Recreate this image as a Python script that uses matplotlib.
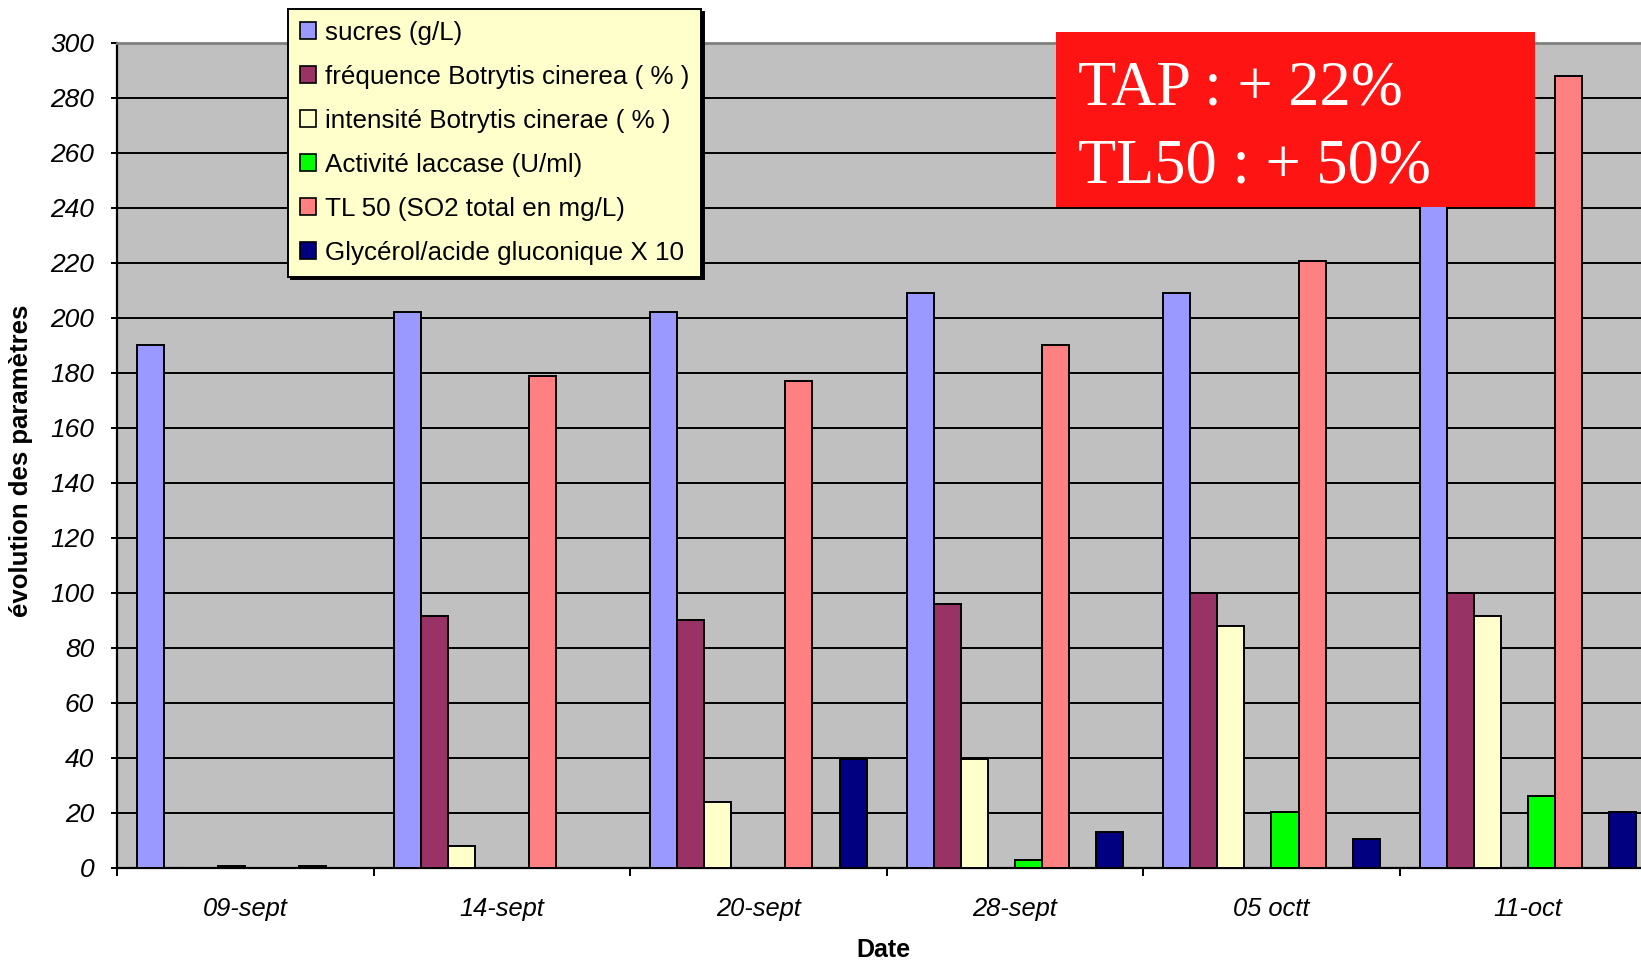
import matplotlib
matplotlib.use("Agg")
import matplotlib.pyplot as plt
from matplotlib.patches import Patch, Rectangle
import numpy as np

# -- data
dates = ["09-sept", "14-sept", "20-sept", "28-sept", "05 octt", "11-oct"]
sucres = [190, 202, 202, 209, 209, 255]
frequence = [0, 91.5, 90, 96, 100, 100]
intensite = [0, 8, 24, 39.5, 88, 91.5]
laccase = [0, 0, 0, 3, 20.5, 26]
tl50 = [0, 179, 177, 190, 220.5, 288]
glycerol = [0, 0, 39.5, 13, 10.5, 20.5]
# two series without a legend entry, only visible as thin marks on 09-sept
hidden_a = [0.7, 0, 0, 0, 0, 0]
hidden_b = [0.7, 0, 0, 0, 0, 0]

labels = ["sucres (g/L)", "fréquence Botrytis cinerea ( % )",
          "intensité Botrytis cinerae ( % )", "Activité laccase (U/ml)",
          "TL 50 (SO2 total en mg/L)", "Glycérol/acide gluconique X 10"]
colors = ["#9999FF", "#993366", "#FFFFCC", "#00FF00", "#FF8080", "#000080"]

# slot order in each group (8 slots, two hidden series)
slots = [(sucres, colors[0]), (frequence, colors[1]), (intensite, colors[2]),
         (hidden_a, "#000000"), (laccase, colors[3]), (tl50, colors[4]),
         (hidden_b, "#000000"), (glycerol, colors[5])]

FONT = "Liberation Sans"

fig = plt.figure(figsize=(16.41, 9.63), dpi=100)
# the plot area runs a little past the right edge, as in the reference
ax = fig.add_axes([0.0713, 0.0987, 0.938, 0.857])
ax.set_facecolor("#C0C0C0")

x = np.arange(len(dates))
gap = 0.156
w = (1 - gap) / len(slots)
for k, (vals, col) in enumerate(slots):
    pos = x - 0.5 + gap / 2 + w * (k + 0.5)
    ax.bar(pos, vals, width=w, color=col, edgecolor="black", linewidth=1.4, zorder=3)

ax.set_xlim(-0.5, len(dates) - 0.5)
ax.set_ylim(0, 300)
ax.set_yticks(range(0, 301, 20))
ax.yaxis.grid(True, color="black", linewidth=1.4, zorder=1)
ax.set_axisbelow(True)

# category labels at centers, ticks at group boundaries
ax.set_xticks(x)
ax.set_xticklabels(dates, fontstyle="italic", fontsize=18.4, family=FONT)
ax.set_xticks(np.arange(-0.5, len(dates) - 0.4, 1), minor=True)
ax.tick_params(axis="x", which="major", length=0, pad=21)
ax.tick_params(axis="x", which="minor", length=6, width=1.4, direction="out")
ax.tick_params(axis="y", length=4.5, width=1.4, direction="out", pad=12)
for lab in ax.get_yticklabels():
    lab.set_fontstyle("italic")
    lab.set_fontsize(19)
    lab.set_family(FONT)

ax.spines["right"].set_visible(False)
ax.spines["top"].set_color("#808080")
ax.spines["top"].set_linewidth(2)
ax.spines["left"].set_linewidth(1.6)
ax.spines["bottom"].set_linewidth(1.6)

ax.set_ylabel("évolution des paramètres", fontsize=18.5, fontweight="bold", family=FONT)
ax.yaxis.set_label_coords(-0.0543, 0.493)
ax.set_xlabel("Date", fontsize=18, fontweight="bold", family=FONT, va="center")
ax.xaxis.set_label_coords(0.498, -0.0993)

# legend
handles = [Patch(facecolor=c, edgecolor="black", linewidth=1.2) for c in colors]
leg = fig.legend(handles, labels, loc="upper left", bbox_to_anchor=(0.1755, 0.9905),
                 borderaxespad=0,
                 prop={"family": FONT, "size": 18.7}, frameon=True, fancybox=False,
                 facecolor="#FFFFCC", edgecolor="black", framealpha=1,
                 handlelength=0.62, handleheight=0.62, handletextpad=0.35,
                 labelspacing=0.77, borderpad=0.45,
                 shadow={"color": "black", "alpha": 1})
leg.get_frame().set_linewidth(1.4)

# red annotation box
fig.patches.append(Rectangle((0.6435, 0.785), 0.292, 0.182, transform=fig.transFigure,
                             facecolor="#FF1414", edgecolor="none", zorder=5))
fig.text(0.657, 0.891, "TAP : + 22%", color="white", fontsize=45,
         family="Liberation Serif", va="baseline", zorder=6)
fig.text(0.657, 0.810, "TL50 : + 50%", color="white", fontsize=45,
         family="Liberation Serif", va="baseline", zorder=6)

fig.savefig("out.png", dpi=100)
